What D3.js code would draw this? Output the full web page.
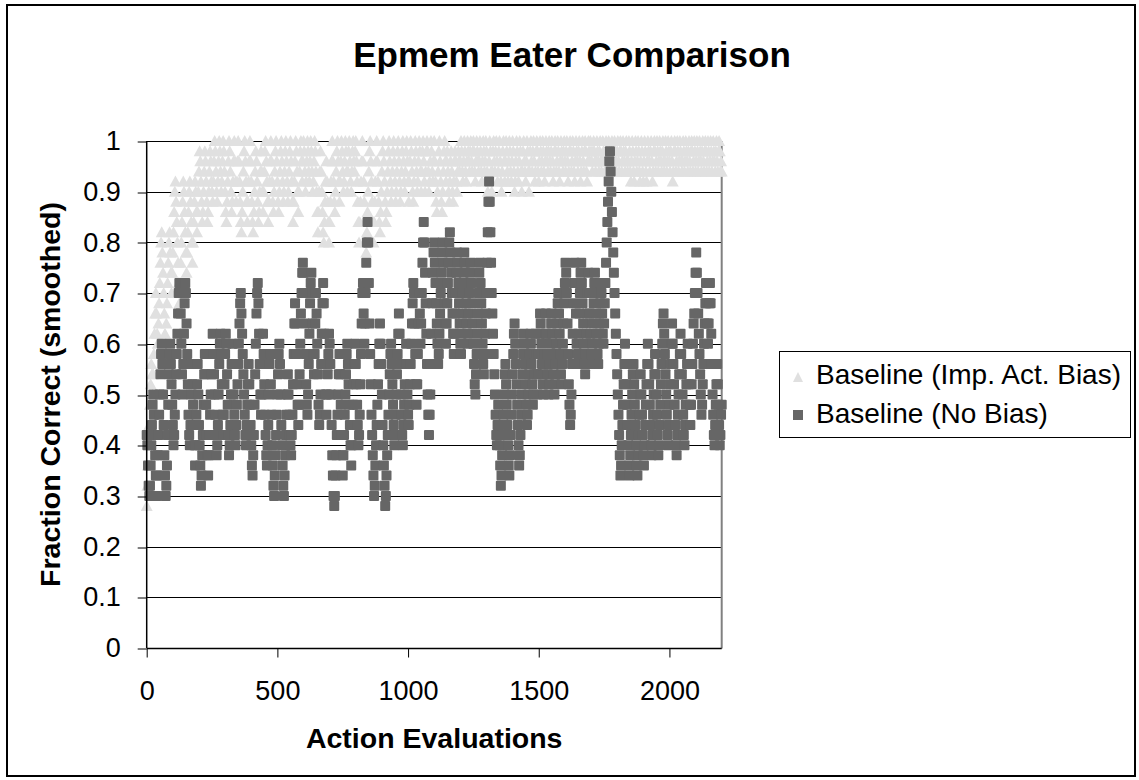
<!DOCTYPE html>
<html>
<head>
<meta charset="utf-8">
<script src="https://cdn.jsdelivr.net/npm/d3@7"></script>
<style>
  body { margin: 0; background: #fff; }
  text { font-family: "Liberation Sans", Arial, sans-serif; fill: #000; }
</style>
</head>
<body>
<svg id="chart" width="1139" height="780"></svg>
<script>
// both series sampled every 2.5 evaluations (0..2200), one row per 50
const xStep = 2.5;

const impActBias = [
  0.28,0.32,0.36,0.40,0.44,0.48,0.52,0.56,0.54,0.50,0.54,0.58,0.62,0.66,0.70,0.66,0.62,0.60,0.64,0.68,
  0.72,0.76,0.80,0.82,0.78,0.74,0.70,0.66,0.62,0.60,0.64,0.68,0.72,0.76,0.80,0.82,0.78,0.74,0.70,0.74,
  0.78,0.82,0.86,0.90,0.92,0.88,0.84,0.80,0.76,0.72,0.68,0.72,0.76,0.80,0.84,0.88,0.92,0.90,0.86,0.82,
  0.78,0.74,0.78,0.82,0.86,0.90,0.92,0.88,0.84,0.80,0.76,0.80,0.84,0.88,0.92,0.90,0.86,0.82,0.86,0.90,
  0.94,0.98,0.96,0.92,0.88,0.84,0.86,0.90,0.94,0.98,0.96,0.92,0.88,0.84,0.86,0.90,0.94,0.98,0.96,0.92,
  0.90,0.88,0.92,0.96,1.00,0.98,0.94,0.90,0.88,0.92,0.96,1.00,0.98,0.94,0.90,0.92,0.96,1.00,0.98,0.94,
  0.90,0.86,0.84,0.88,0.92,0.96,1.00,0.98,0.94,0.90,0.86,0.88,0.92,0.96,1.00,0.96,0.92,0.88,0.92,0.96,
  1.00,0.96,0.92,0.88,0.84,0.82,0.86,0.90,0.94,0.98,1.00,0.96,0.92,0.88,0.84,0.88,0.92,0.96,1.00,0.96,
  0.92,0.88,0.84,0.82,0.86,0.90,0.94,0.98,0.96,0.92,0.88,0.84,0.86,0.90,0.94,0.98,0.94,0.90,0.86,0.90,
  0.94,0.98,1.00,0.96,0.92,0.88,0.84,0.88,0.92,0.96,1.00,0.96,0.92,0.88,0.86,0.90,0.94,0.98,1.00,0.96,
  0.92,0.88,0.86,0.90,0.94,0.98,1.00,0.96,0.92,0.88,0.90,0.94,0.98,1.00,0.96,0.92,0.88,0.90,0.94,0.98,
  1.00,0.96,0.92,0.88,0.84,0.88,0.92,0.96,1.00,0.98,0.94,0.90,0.86,0.90,0.94,0.98,1.00,0.96,0.92,0.96,
  1.00,0.98,0.94,0.90,0.92,0.96,1.00,0.98,0.94,0.92,0.96,1.00,0.98,0.94,0.90,0.92,0.96,1.00,0.98,0.94,
  0.90,0.86,0.82,0.86,0.90,0.94,0.98,0.94,0.90,0.86,0.82,0.80,0.84,0.88,0.92,0.96,0.92,0.88,0.84,0.80,
  0.84,0.88,0.92,0.96,1.00,0.96,0.92,0.88,0.86,0.90,0.94,0.98,1.00,0.96,0.92,0.88,0.92,0.96,1.00,0.98,
  0.94,0.90,0.92,0.96,1.00,0.98,0.94,0.90,0.94,0.98,1.00,0.96,0.92,0.90,0.94,0.98,1.00,0.96,0.94,0.98,
  1.00,0.96,0.92,0.88,0.84,0.80,0.84,0.88,0.92,0.96,1.00,0.96,0.92,0.88,0.84,0.80,0.78,0.82,0.86,0.90,
  0.94,0.98,1.00,0.96,0.92,0.88,0.84,0.80,0.84,0.88,0.92,0.96,1.00,0.96,0.92,0.88,0.84,0.82,0.86,0.90,
  0.94,0.98,1.00,0.96,0.92,0.88,0.84,0.86,0.90,0.94,0.98,1.00,0.96,0.92,0.88,0.90,0.94,0.98,1.00,0.96,
  0.92,0.88,0.90,0.94,0.98,1.00,0.96,0.92,0.88,0.90,0.94,0.98,1.00,0.96,0.92,0.90,0.94,0.98,1.00,0.96,
  0.92,0.88,0.92,0.96,1.00,0.98,0.94,0.90,0.88,0.92,0.96,1.00,0.98,0.94,0.90,0.92,0.96,1.00,0.98,0.94,
  0.90,0.94,0.98,1.00,0.96,0.92,0.90,0.94,0.98,1.00,0.98,0.94,0.90,0.92,0.96,1.00,0.98,0.94,0.92,0.96,
  1.00,0.96,0.92,0.88,0.86,0.90,0.94,0.98,1.00,0.96,0.92,0.88,0.86,0.90,0.94,0.98,1.00,0.96,0.92,0.96,
  0.98,0.94,0.90,0.88,0.92,0.96,0.98,0.94,0.90,0.88,0.92,0.96,0.98,0.96,0.92,0.90,0.94,0.98,0.96,0.94,
  0.96,1.00,0.98,0.94,0.92,0.96,1.00,0.98,0.94,0.92,0.96,1.00,0.98,0.96,0.94,0.98,1.00,0.96,0.94,0.98,
  1.00,0.98,0.94,0.92,0.96,1.00,0.98,0.96,0.94,0.96,1.00,0.98,0.94,0.92,0.96,1.00,0.98,0.94,0.96,1.00,
  0.98,0.94,0.90,0.92,0.96,1.00,0.98,0.94,0.90,0.94,0.98,1.00,0.96,0.94,0.98,1.00,0.96,0.92,0.94,0.98,
  1.00,0.96,0.92,0.90,0.94,0.98,1.00,0.96,0.92,0.96,1.00,0.98,0.94,0.92,0.96,1.00,0.98,0.94,0.92,0.96,
  1.00,0.98,0.94,0.90,0.92,0.96,1.00,0.98,0.94,0.92,0.96,1.00,0.98,0.94,0.90,0.94,0.98,1.00,0.96,0.94,
  0.92,0.96,1.00,0.98,0.94,0.90,0.94,0.98,1.00,0.96,0.94,0.98,1.00,0.96,0.92,0.94,0.98,1.00,0.98,0.94,
  0.92,0.96,1.00,0.98,0.94,0.96,1.00,0.98,0.94,0.92,0.96,1.00,0.98,0.96,0.94,0.98,1.00,0.96,0.94,0.98,
  1.00,0.96,0.92,0.94,0.98,1.00,0.98,0.94,0.96,1.00,0.98,0.94,0.92,0.96,1.00,0.98,0.96,0.94,0.98,1.00,
  0.96,0.94,0.98,1.00,0.96,0.92,0.94,0.98,1.00,0.98,0.94,0.96,1.00,0.98,0.94,0.92,0.96,1.00,0.98,0.96,
  0.94,0.98,1.00,0.96,0.92,0.94,0.98,1.00,0.96,0.94,0.98,1.00,0.98,0.94,0.92,0.96,1.00,0.98,0.96,1.00,
  0.98,0.96,0.94,0.98,1.00,0.98,0.96,0.94,0.96,1.00,0.98,0.96,0.94,0.98,1.00,0.96,0.94,0.96,1.00,0.98,
  0.96,0.94,0.98,1.00,0.98,0.94,0.96,1.00,0.98,0.96,0.94,0.98,1.00,0.96,0.94,0.96,1.00,0.98,0.96,0.94,
  0.98,1.00,0.96,0.94,0.98,1.00,0.98,0.94,0.96,1.00,0.98,0.96,0.94,0.98,1.00,0.96,0.94,0.96,1.00,0.98,
  0.94,0.92,0.96,1.00,0.98,0.94,0.92,0.96,1.00,0.98,0.94,0.96,1.00,0.98,0.94,0.92,0.96,1.00,0.98,0.94,
  0.92,0.96,1.00,0.98,0.94,0.92,0.96,1.00,0.98,0.96,0.94,0.98,1.00,0.96,0.92,0.94,0.98,1.00,0.98,0.94,
  0.96,1.00,0.98,0.94,0.96,1.00,0.98,0.96,0.94,0.98,1.00,0.96,0.94,0.96,1.00,0.98,0.94,0.96,1.00,0.98,
  0.96,0.94,0.98,1.00,0.96,0.92,0.94,0.98,1.00,0.98,0.94,0.96,1.00,0.98,0.94,0.96,1.00,0.98,0.96,0.94,
  0.96,1.00,0.98,0.94,0.96,1.00,0.98,0.96,0.94,0.98,1.00,0.96,0.94,0.98,1.00,0.98,0.94,0.96,1.00,0.98,
  0.94,0.96,1.00,0.98,0.94,0.96,1.00,0.98,0.96,0.94,0.98,1.00,0.96,0.94,0.98,1.00,0.98,0.94,0.96,1.00,
  0.98,0.94,0.96,1.00,0.98,0.94,0.96,1.00,0.98,0.96,0.94,0.98,1.00,0.96,0.94,0.98,1.00,0.98,0.94,0.96,
  0.94
];

const noBias = [
  0.42,0.40,0.36,0.32,0.30,0.32,0.36,0.40,0.44,0.48,0.50,0.46,0.42,0.38,0.34,0.30,0.34,0.38,0.42,0.46,
  0.50,0.54,0.58,0.60,0.56,0.50,0.44,0.38,0.34,0.30,0.32,0.36,0.42,0.48,0.54,0.58,0.60,0.56,0.52,0.48,
  0.44,0.40,0.42,0.46,0.50,0.54,0.58,0.62,0.66,0.70,0.72,0.70,0.66,0.60,0.54,0.50,0.56,0.62,0.68,0.72,
  0.70,0.64,0.58,0.52,0.46,0.42,0.40,0.44,0.50,0.56,0.52,0.48,0.44,0.40,0.36,0.40,0.46,0.52,0.56,0.50,
  0.44,0.40,0.36,0.32,0.34,0.38,0.42,0.48,0.54,0.58,0.54,0.48,0.42,0.38,0.34,0.38,0.42,0.46,0.50,0.54,
  0.58,0.62,0.58,0.54,0.50,0.46,0.42,0.38,0.40,0.44,0.50,0.56,0.60,0.62,0.58,0.52,0.46,0.42,0.46,0.52,
  0.58,0.62,0.60,0.54,0.48,0.42,0.38,0.40,0.44,0.50,0.56,0.60,0.56,0.50,0.46,0.42,0.40,0.44,0.48,0.52,
  0.56,0.60,0.64,0.68,0.70,0.66,0.62,0.58,0.54,0.50,0.46,0.42,0.40,0.44,0.48,0.52,0.56,0.52,0.48,0.44,
  0.40,0.36,0.34,0.38,0.42,0.48,0.54,0.60,0.66,0.70,0.72,0.68,0.62,0.56,0.50,0.46,0.50,0.56,0.62,0.58,
  0.52,0.46,0.42,0.38,0.36,0.40,0.44,0.50,0.56,0.58,0.52,0.46,0.40,0.36,0.32,0.30,0.34,0.38,0.42,0.46,
  0.50,0.54,0.58,0.60,0.56,0.50,0.44,0.40,0.36,0.32,0.30,0.34,0.38,0.42,0.46,0.50,0.54,0.50,0.46,0.42,
  0.40,0.38,0.42,0.46,0.52,0.58,0.64,0.68,0.64,0.58,0.52,0.48,0.44,0.48,0.54,0.60,0.66,0.70,0.74,0.76,
  0.74,0.70,0.64,0.58,0.52,0.48,0.46,0.50,0.56,0.62,0.68,0.72,0.74,0.70,0.64,0.58,0.54,0.58,0.64,0.70,
  0.66,0.60,0.54,0.48,0.44,0.46,0.50,0.56,0.62,0.68,0.72,0.68,0.62,0.56,0.50,0.46,0.50,0.54,0.58,0.62,
  0.60,0.56,0.50,0.44,0.38,0.34,0.30,0.28,0.30,0.34,0.38,0.42,0.46,0.50,0.54,0.58,0.54,0.48,0.42,0.38,
  0.34,0.38,0.42,0.46,0.50,0.54,0.58,0.60,0.56,0.52,0.48,0.44,0.40,0.36,0.40,0.44,0.48,0.52,0.56,0.60,
  0.56,0.52,0.48,0.44,0.40,0.42,0.46,0.52,0.58,0.64,0.70,0.72,0.66,0.60,0.64,0.70,0.76,0.80,0.84,0.80,
  0.72,0.64,0.58,0.52,0.46,0.42,0.38,0.34,0.30,0.32,0.36,0.40,0.44,0.48,0.52,0.56,0.60,0.64,0.60,0.56,
  0.50,0.44,0.40,0.36,0.32,0.28,0.30,0.34,0.38,0.42,0.46,0.50,0.54,0.58,0.60,0.56,0.52,0.48,0.44,0.40,
  0.42,0.46,0.50,0.54,0.58,0.62,0.66,0.62,0.56,0.50,0.46,0.42,0.40,0.44,0.48,0.52,0.56,0.60,0.56,0.50,
  0.46,0.44,0.48,0.52,0.56,0.60,0.64,0.68,0.72,0.70,0.64,0.58,0.52,0.48,0.52,0.58,0.64,0.70,0.66,0.60,
  0.64,0.70,0.76,0.80,0.84,0.80,0.74,0.68,0.62,0.56,0.50,0.46,0.42,0.46,0.50,0.56,0.62,0.68,0.74,0.78,
  0.80,0.76,0.72,0.68,0.64,0.60,0.56,0.58,0.62,0.66,0.70,0.74,0.78,0.80,0.76,0.72,0.68,0.64,0.60,0.64,
  0.68,0.72,0.76,0.80,0.82,0.78,0.74,0.70,0.66,0.62,0.58,0.62,0.66,0.70,0.74,0.78,0.76,0.72,0.68,0.64,
  0.60,0.58,0.62,0.66,0.70,0.74,0.78,0.76,0.72,0.68,0.64,0.60,0.62,0.66,0.70,0.74,0.76,0.72,0.68,0.64,
  0.60,0.56,0.52,0.50,0.54,0.58,0.62,0.66,0.70,0.74,0.76,0.72,0.68,0.64,0.60,0.56,0.54,0.58,0.62,0.66,
  0.70,0.76,0.82,0.88,0.92,0.88,0.82,0.76,0.70,0.66,0.62,0.58,0.54,0.50,0.46,0.42,0.40,0.44,0.48,0.44,
  0.40,0.36,0.32,0.34,0.38,0.42,0.46,0.50,0.54,0.56,0.52,0.48,0.44,0.40,0.36,0.34,0.38,0.42,0.46,0.50,
  0.54,0.58,0.62,0.64,0.60,0.56,0.52,0.48,0.44,0.40,0.36,0.38,0.42,0.46,0.50,0.54,0.58,0.62,0.60,0.56,
  0.52,0.48,0.44,0.46,0.50,0.54,0.58,0.62,0.60,0.56,0.52,0.48,0.50,0.54,0.58,0.62,0.58,0.54,0.50,0.54,
  0.58,0.62,0.66,0.64,0.60,0.56,0.52,0.50,0.54,0.58,0.62,0.66,0.62,0.58,0.54,0.50,0.52,0.56,0.60,0.64,
  0.66,0.62,0.58,0.54,0.50,0.52,0.56,0.60,0.64,0.68,0.70,0.66,0.62,0.58,0.54,0.52,0.56,0.60,0.64,0.68,
  0.72,0.76,0.74,0.70,0.64,0.58,0.52,0.48,0.44,0.46,0.50,0.56,0.62,0.68,0.72,0.76,0.72,0.66,0.60,0.56,
  0.58,0.62,0.66,0.70,0.74,0.76,0.72,0.68,0.64,0.60,0.56,0.54,0.58,0.62,0.66,0.70,0.74,0.70,0.66,0.62,
  0.58,0.56,0.60,0.64,0.68,0.72,0.74,0.70,0.66,0.62,0.58,0.56,0.60,0.64,0.68,0.72,0.70,0.66,0.62,0.60,
  0.64,0.68,0.72,0.76,0.80,0.84,0.88,0.92,0.96,0.98,0.94,0.90,0.86,0.82,0.78,0.74,0.70,0.66,0.62,0.58,
  0.54,0.50,0.46,0.42,0.38,0.34,0.36,0.40,0.44,0.48,0.52,0.56,0.60,0.56,0.52,0.48,0.44,0.40,0.36,0.34,
  0.38,0.42,0.46,0.50,0.54,0.56,0.52,0.48,0.44,0.40,0.36,0.34,0.38,0.42,0.46,0.50,0.54,0.50,0.46,0.42,
  0.38,0.36,0.40,0.44,0.48,0.52,0.56,0.60,0.56,0.52,0.48,0.44,0.40,0.38,0.42,0.46,0.50,0.54,0.58,0.54,
  0.50,0.46,0.42,0.38,0.40,0.44,0.48,0.52,0.56,0.60,0.64,0.66,0.62,0.58,0.54,0.50,0.46,0.42,0.40,0.44,
  0.48,0.52,0.56,0.60,0.64,0.60,0.56,0.52,0.48,0.44,0.40,0.38,0.42,0.46,0.50,0.54,0.58,0.62,0.58,0.54,
  0.50,0.46,0.42,0.40,0.44,0.48,0.52,0.56,0.60,0.56,0.52,0.48,0.44,0.48,0.52,0.56,0.60,0.64,0.66,0.70,
  0.74,0.78,0.74,0.70,0.66,0.62,0.58,0.54,0.50,0.46,0.48,0.52,0.56,0.60,0.64,0.68,0.72,0.68,0.64,0.60,
  0.64,0.68,0.72,0.68,0.62,0.56,0.50,0.46,0.42,0.40,0.44,0.48,0.52,0.56,0.52,0.48,0.44,0.40,0.42,0.46,
  0.48
];

const xTicks = [0, 500, 1000, 1500, 2000];
const yTicks = [0, 0.1, 0.2, 0.3, 0.4, 0.5, 0.6, 0.7, 0.8, 0.9, 1];
const seriesNames = ["Baseline (Imp. Act. Bias)", "Baseline (No Bias)"];

const svg = d3.select("#chart");
const pL = 146.7, pR = 721.7, pT = 141, pB = 648;

const x = d3.scaleLinear().domain([0, 2200]).range([pL, pR]);
const y = d3.scaleLinear().domain([0, 1]).range([pB, pT]);

// outer frame
svg.append("rect")
  .attr("x", 7).attr("y", 5).attr("width", 1128).attr("height", 771)
  .attr("fill", "#fff").attr("stroke", "#000").attr("stroke-width", 2);

// gridlines
svg.append("g").selectAll("line")
  .data(yTicks.filter(d => d > 0))
  .enter().append("line")
  .attr("x1", pL).attr("x2", pR)
  .attr("y1", d => Math.round(y(d)) + 0.5).attr("y2", d => Math.round(y(d)) + 0.5)
  .attr("stroke", "#000").attr("stroke-width", 1);

// plot border right
svg.append("path")
  .attr("d", `M${pR},${pT} V${pB + 0.5}`)
  .attr("fill", "none").attr("stroke", "#808080").attr("stroke-width", 2);

const tri = d => {
  const cx = x(d.x), cy = y(d.y);
  return `M${cx},${cy - 6} L${cx + 6},${cy + 5} L${cx - 6},${cy + 5} Z`;
};

svg.append("g").selectAll("path")
  .data(impActBias.map((v, i) => ({ x: i * xStep, y: v })))
  .enter().append("path")
  .attr("d", tri)
  .attr("fill", "#e0e0e0");

svg.append("g").selectAll("rect")
  .data(noBias.map((v, i) => ({ x: i * xStep, y: v })))
  .enter().append("rect")
  .attr("x", d => x(d.x) - 5).attr("y", d => y(d.y) - 5)
  .attr("width", 10).attr("height", 10).attr("rx", 1)
  .attr("fill", "#666666");

// axes
const yAxis = d3.axisLeft(y).tickValues(yTicks).tickSize(9).tickPadding(17)
  .tickFormat(d => String(+d.toFixed(1)));
const gy = svg.append("g").attr("transform", `translate(${pL},0)`).call(yAxis);
gy.select(".domain").attr("stroke", "#000").attr("stroke-width", 1.5)
  .attr("d", `M0,${pT}V${pB}`);
gy.selectAll(".tick line").attr("stroke", "#000")
  .attr("transform", d => `translate(0,${Math.round(y(d)) + 0.5 - y(d)})`);
gy.selectAll("text").attr("font-size", 27).attr("fill", "#000")
  .attr("font-family", "Liberation Sans, Arial, sans-serif");

const xAxis = d3.axisBottom(x).tickValues(xTicks).tickSize(9).tickPadding(23)
  .tickFormat(d => String(d));
const gx = svg.append("g").attr("transform", `translate(0,${pB + 0.5})`).call(xAxis);
gx.select(".domain").attr("stroke", "#000").attr("stroke-width", 1.5)
  .attr("d", `M${pL},0H${pR}`);
gx.selectAll(".tick line").attr("stroke", "#000");
gx.selectAll("text").attr("font-size", 27).attr("fill", "#000")
  .attr("font-family", "Liberation Sans, Arial, sans-serif");

// titles
svg.append("text").attr("x", 572).attr("y", 67).attr("text-anchor", "middle")
  .attr("font-size", 35).attr("font-weight", "bold").text("Epmem Eater Comparison");

svg.append("text").attr("x", (pL + pR) / 2).attr("y", 748).attr("text-anchor", "middle")
  .attr("font-size", 28.5).attr("font-weight", "bold").text("Action Evaluations");

svg.append("text")
  .attr("transform", `translate(60,${(pT + pB) / 2}) rotate(-90)`)
  .attr("text-anchor", "middle")
  .attr("font-size", 28.5).attr("font-weight", "bold").text("Fraction Correct (smoothed)");

// legend
const lg = svg.append("g");
lg.append("rect").attr("x", 779.5).attr("y", 351.5).attr("width", 351).attr("height", 86)
  .attr("fill", "#fff").attr("stroke", "#000").attr("stroke-width", 1);
lg.append("path").attr("d", "M798,372 L803,382 L793,382 Z").attr("fill", "#e0e0e0");
lg.append("rect").attr("x", 793).attr("y", 410).attr("width", 10).attr("height", 10).attr("fill", "#666666");
lg.selectAll("text.leg").data(seriesNames).enter().append("text")
  .attr("class", "leg")
  .attr("x", 816).attr("y", (d, i) => 384 + i * 39)
  .attr("font-size", 28).text(d => d);
</script>
</body>
</html>
